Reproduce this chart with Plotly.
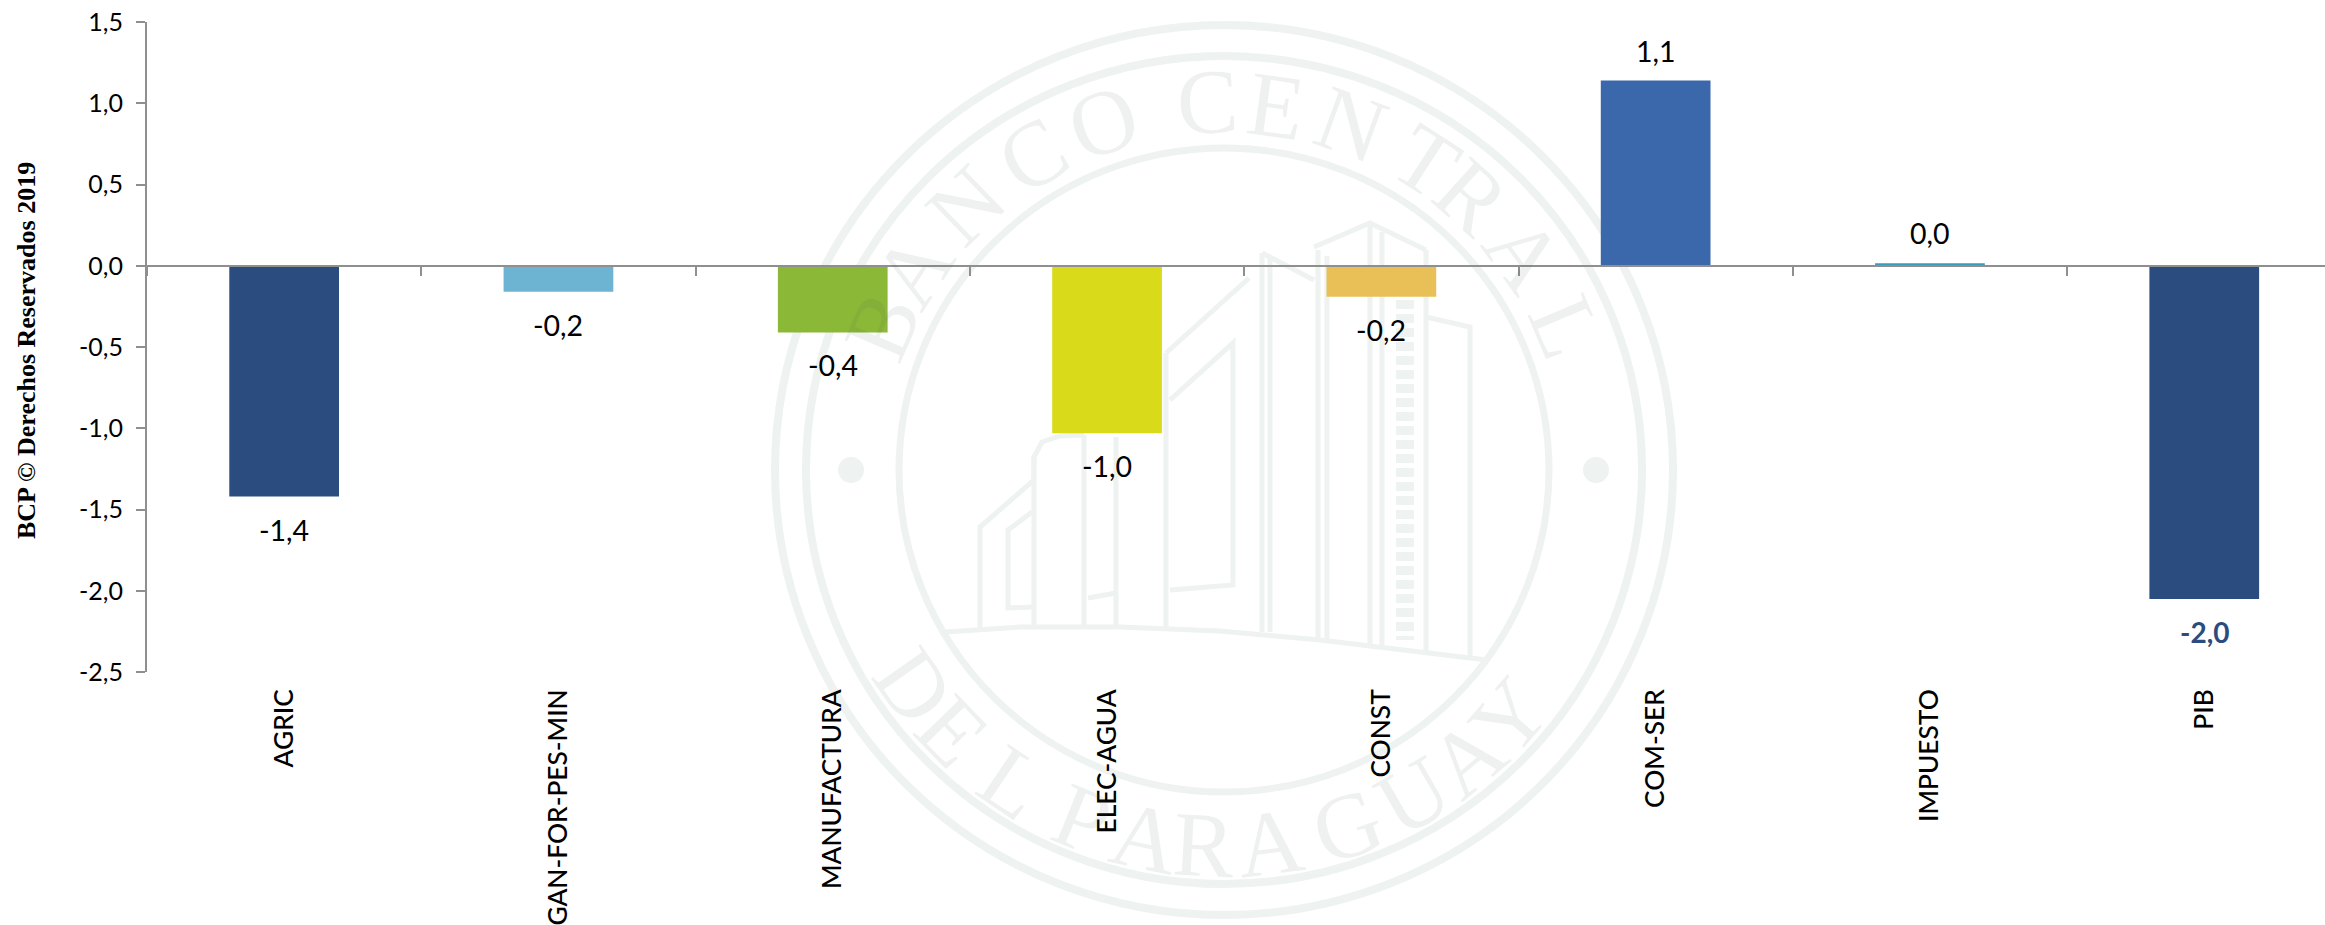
import math
import plotly.graph_objects as go

categories = ["AGRIC", "GAN-FOR-PES-MIN", "MANUFACTURA", "ELEC-AGUA", "CONST", "COM-SER", "IMPUESTO", "PIB"]
values = [-1.42, -0.16, -0.41, -1.03, -0.19, 1.14, 0.015, -2.05]
value_labels = ["-1,4", "-0,2", "-0,4", "-1,0", "-0,2", "1,1", "0,0", "-2,0"]
bar_colors = ["#2B4C7E", "#6CB4D2", "#8CB838", "#D8DA1A", "#E8C057", "#3B68AB", "#3A9BBE", "#2B4C7E"]
y_tick_values = [1.5, 1.0, 0.5, 0.0, -0.5, -1.0, -1.5, -2.0, -2.5]
y_tick_labels = ["1,5", "1,0", "0,5", "0,0", "-0,5", "-1,0", "-1,5", "-2,0", "-2,5"]
credit = "BCP © Derechos Reservados 2019"

W, H = 2325, 925
L, R, T, B = 147, 0, 22, 253
FONT = "Lato"
AXIS = "#8F8F8F"
SEAL = "#EEF2F0"
SEAL_TEXT = "rgba(60,90,80,0.085)"


def px(x):
    return (x - L) / (W - L - R)


def py(y):
    return (H - B - y) / (H - T - B)


def path(points, close=False):
    s = "M" + " L".join(f"{px(x):.5f},{py(y):.5f}" for x, y in points)
    return s + (" Z" if close else "")


shapes = []
CX, CY = 1224, 470
for rx, ry, w in [(449, 445, 8), (418, 414, 8), (325, 322, 7)]:
    shapes.append(dict(type="circle", xref="paper", yref="paper", layer="below",
                       x0=px(CX - rx), x1=px(CX + rx), y0=py(CY + ry), y1=py(CY - ry),
                       line=dict(color=SEAL, width=w)))
for dx in (851, 1596):
    shapes.append(dict(type="circle", xref="paper", yref="paper", layer="below",
                       x0=px(dx - 13), x1=px(dx + 13), y0=py(470 + 13), y1=py(470 - 13),
                       fillcolor=SEAL, line=dict(width=0)))

building = [
    [(945, 632), (1020, 627), (1120, 627), (1220, 631), (1320, 640), (1487, 660)],
    [(980, 630), (980, 527), (1034, 480), (1034, 457), (1042, 442), (1060, 436), (1084, 435)],
    [(1034, 457), (1034, 628)],
    [(1032, 512), (1008, 530), (1008, 608), (1032, 607)],
    [(1084, 435), (1084, 628)],
    [(1116, 437), (1116, 629)],
    [(1088, 598), (1116, 593)],
    [(1166, 353), (1166, 630)],
    [(1166, 353), (1249, 278)],
    [(1170, 400), (1233, 343), (1233, 585), (1170, 590)],
    [(1262, 253), (1262, 632)],
    [(1270, 256), (1270, 632)],
    [(1262, 253), (1314, 280)],
    [(1318, 250), (1318, 640)],
    [(1327, 256), (1327, 640)],
    [(1314, 247), (1370, 223), (1426, 250)],
    [(1370, 223), (1370, 645)],
    [(1382, 232), (1382, 645)],
    [(1426, 250), (1426, 652)],
    [(1426, 317), (1470, 327), (1470, 656)],
]
for pts in building:
    shapes.append(dict(type="path", xref="paper", yref="paper", layer="below", path=path(pts),
                       line=dict(color=SEAL, width=5)))
shapes.append(dict(type="path", xref="paper", yref="paper", layer="below",
                   path=path([(1405, 300), (1405, 640)]),
                   line=dict(color=SEAL, width=18, dash="9px,5px")))

annotations = []
for cat, val, lab in zip(categories, values, value_labels):
    is_total = cat == "PIB"
    annotations.append(dict(x=cat, y=val, xref="x", yref="y", text=lab, showarrow=False,
                            yshift=30 if val > 0 else -33, xanchor="center", yanchor="middle",
                            font=dict(family=FONT, size=28 if is_total else 28.5,
                                      color="#2B4C7E" if is_total else "#000000",
                                      weight="bold" if is_total else "normal")))

annotations.append(dict(x=px(26), y=py(351), xref="paper", yref="paper", text=credit, showarrow=False,
                        textangle=-90, xanchor="center", yanchor="middle",
                        font=dict(family="Liberation Serif", size=26, color="#000000", weight="bold")))

top_letters = list("BANCOCENTRAL")
top_angles = [-67, -57, -44, -31, -19, -2.5, 8, 20, 33, 42, 54, 67]
bottom_letters = list("DELPARAGUAY")
bottom_angles = [235, 226, 214, 202, 192, 183, 173, 161, 150, 140, 131]
for ch, a in zip(top_letters, top_angles):
    t = math.radians(a)
    annotations.append(dict(x=px(CX + 371 * math.sin(t)), y=py(CY - 368 * math.cos(t)),
                            xref="paper", yref="paper", text=ch, showarrow=False, textangle=a,
                            xanchor="center", yanchor="middle",
                            font=dict(family="Liberation Serif", size=92, color=SEAL_TEXT)))
for ch, a in zip(bottom_letters, bottom_angles):
    t = math.radians(a)
    annotations.append(dict(x=px(CX + 378 * math.sin(t)), y=py(CY - 376 * math.cos(t)),
                            xref="paper", yref="paper", text=ch, showarrow=False, textangle=a - 180,
                            xanchor="center", yanchor="middle",
                            font=dict(family="Liberation Serif", size=92, color=SEAL_TEXT)))

fig = go.Figure(go.Bar(x=categories, y=values, width=0.4, marker=dict(color=bar_colors, line=dict(width=0)),
                       showlegend=False, hoverinfo="x+y"))

fig.update_layout(
    width=W, height=H,
    margin=dict(l=L, r=R, t=T, b=B, pad=0, autoexpand=False),
    paper_bgcolor="#FFFFFF", plot_bgcolor="rgba(0,0,0,0)", showlegend=False,
    shapes=shapes, annotations=annotations,
    font=dict(family=FONT, color="#000000"),
    xaxis=dict(type="category", categoryorder="array", categoryarray=categories,
               range=[-0.5, -0.5 + (W - L) / 274.3], anchor="free", position=2.5 / 4,
               showline=True, linecolor=AXIS, linewidth=2, showgrid=False, zeroline=False,
               ticks="outside", ticklen=9, tickwidth=1.5, tickcolor=AXIS, tickson="boundaries",
               tickangle=-90, tickfont=dict(family=FONT, size=26.3, color="#000000", weight=500),
               ticklabelstandoff=412, automargin=False),
    yaxis=dict(range=[-2.5, 1.5], tickmode="array", tickvals=y_tick_values, ticktext=y_tick_labels,
               showline=True, linecolor=AXIS, linewidth=2, showgrid=False, zeroline=False,
               ticks="outside", ticklen=9, tickwidth=1.5, tickcolor=AXIS,
               tickfont=dict(family=FONT, size=25, color="#000000"), ticklabelstandoff=8, automargin=False),
)

fig.write_html("out.html", config={"displayModeBar": False},
               post_script="document.body.style.margin='0';document.documentElement.style.overflow='hidden';")
